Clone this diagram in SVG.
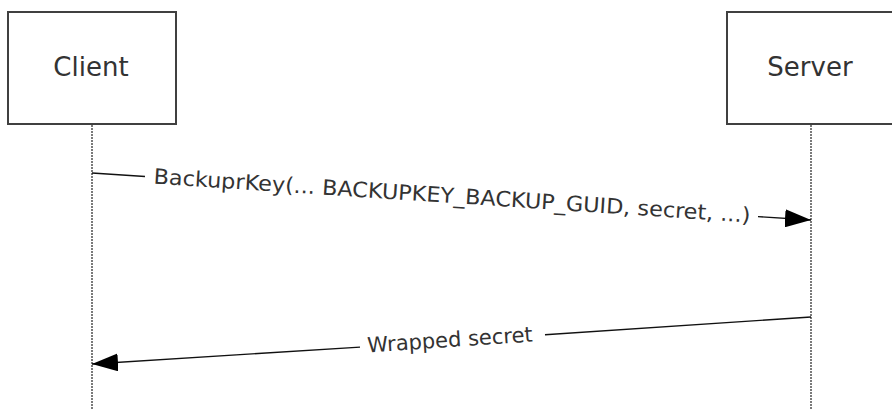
<svg xmlns="http://www.w3.org/2000/svg" width="892" height="409" viewBox="0 0 892 409">
  <style>
    .box { fill: #ffffff; stroke: #404040; stroke-width: 2; }
    .life { stroke: #7a7a7a; stroke-width: 2; stroke-dasharray: 2 1; fill: none; }
    .title { font-family: "DejaVu Sans", Verdana, sans-serif; font-size: 26px; fill: #333333; text-anchor: middle; }
    .lbl { font-family: "DejaVu Sans", Verdana, sans-serif; font-size: 21px; fill: #333333; text-anchor: middle; }
    .msg { stroke: #111111; stroke-width: 1.4; fill: none; }
  </style>
  <defs>
    <marker id="arrow" viewBox="0 0 26 18" refX="26" refY="9" markerWidth="26" markerHeight="18" markerUnits="userSpaceOnUse" orient="auto">
      <path d="M0,0 L26,9 L0,18 Z" fill="#000000"/>
    </marker>
  </defs>
  <rect width="892" height="409" fill="#ffffff"/>
  <g id="client">
    <rect class="box" x="8" y="12" width="168" height="112"/>
    <text class="title" x="91" y="76">Client</text>
    <line class="life" x1="92" y1="125" x2="92" y2="409"/>
  </g>
  <g id="server">
    <rect class="box" x="727" y="12" width="168" height="112"/>
    <text class="title" x="810" y="76">Server</text>
    <line class="life" x1="811" y1="125" x2="811" y2="409"/>
  </g>
  <g id="connectors">
    <g id="msg1">
      <line class="msg" x1="92" y1="173" x2="145" y2="176.5"/>
      <line class="msg" x1="758" y1="216.6" x2="811" y2="220" marker-end="url(#arrow)"/>
      <text class="lbl" x="452" y="203" textLength="598" lengthAdjust="spacingAndGlyphs" transform="rotate(3.74 452 197)">BackuprKey(... BACKUPKEY_BACKUP_GUID, secret, ...)</text>
    </g>
    <g id="msg2">
      <line class="msg" x1="811" y1="317" x2="545" y2="334.8"/>
      <line class="msg" x1="360" y1="347.1" x2="92" y2="364" marker-end="url(#arrow)"/>
      <text class="lbl" x="450" y="347" transform="rotate(-3.82 450 341)">Wrapped secret</text>
    </g>
  </g>
</svg>
